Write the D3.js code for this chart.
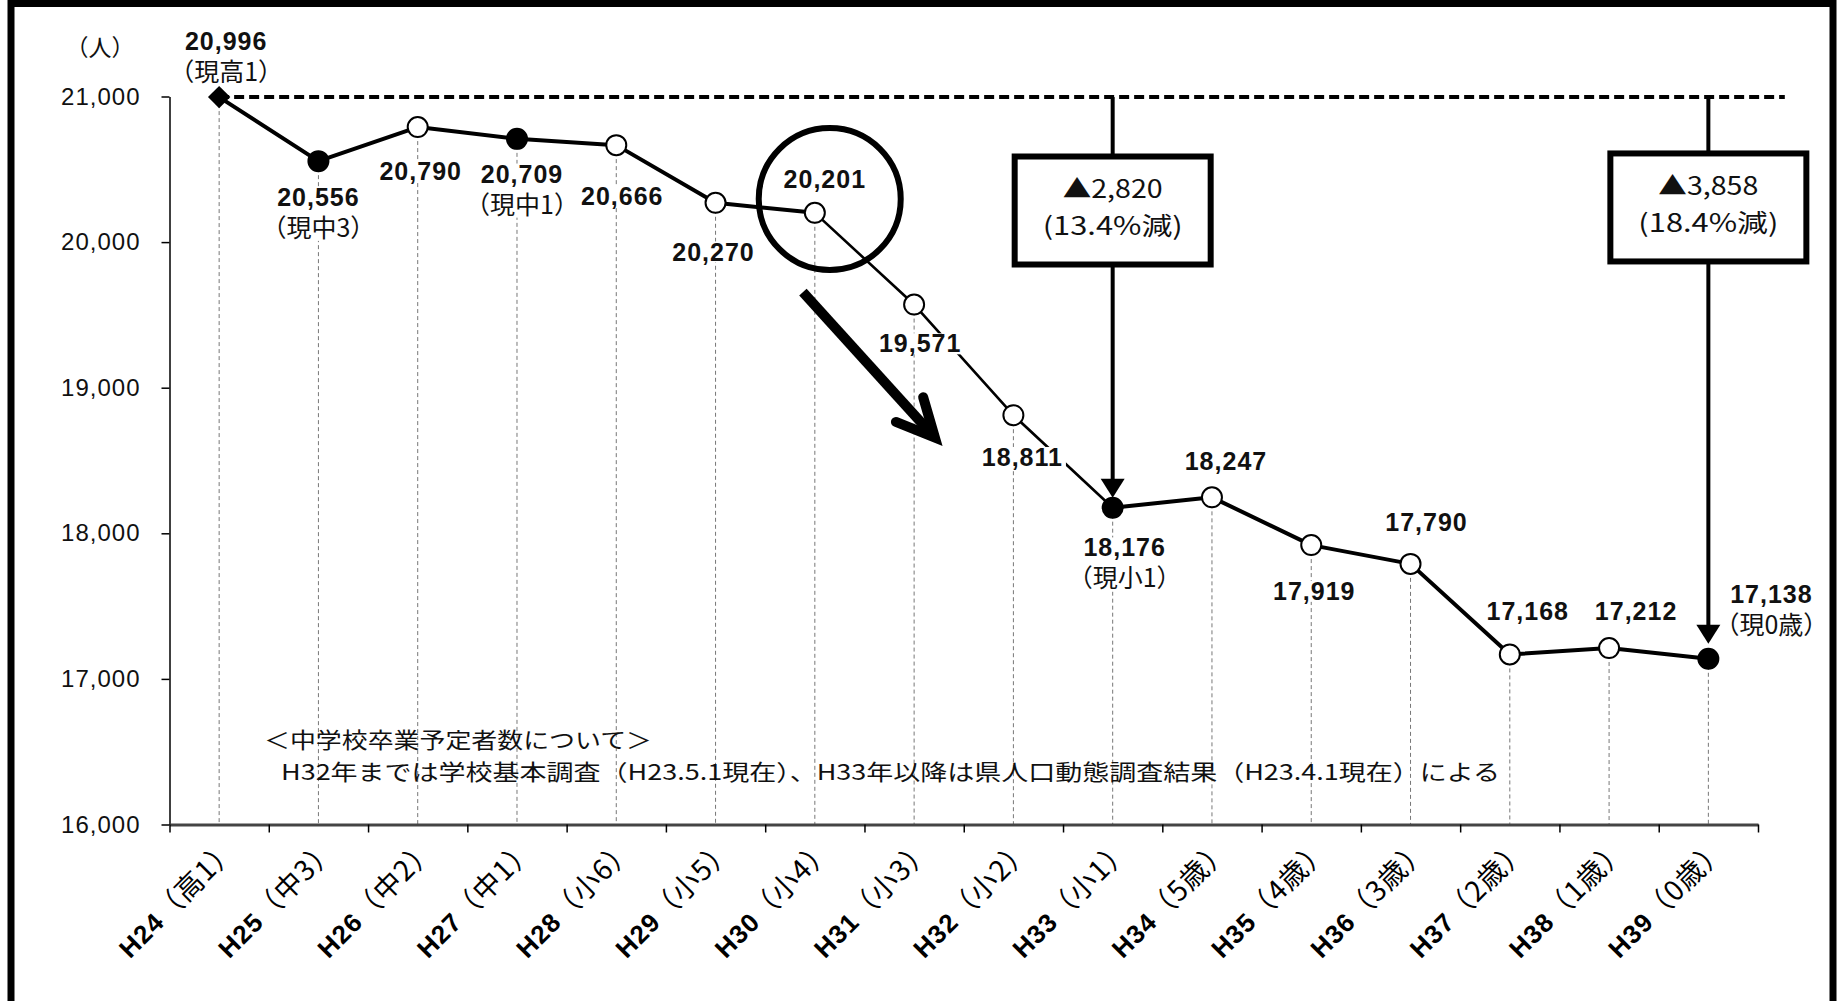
<!DOCTYPE html>
<html lang="ja">
<head>
<meta charset="utf-8">
<script src="https://cdn.jsdelivr.net/npm/d3@7"></script>
<style>
  html, body { margin: 0; padding: 0; background: #fff; }
  svg { display: block; }
</style>
</head>
<body>
<div id="chart"></div>
<script>
// 中学校卒業予定者数の推移 (H24 - H39)
var years = ['H24', 'H25', 'H26', 'H27', 'H28', 'H29', 'H30', 'H31', 'H32', 'H33', 'H34', 'H35', 'H36', 'H37', 'H38', 'H39'];
var grades = ['（高1）', '（中3）', '（中2）', '（中1）', '（小6）', '（小5）', '（小4）', '（小3）', '（小2）', '（小1）', '（5歳）', '（4歳）', '（3歳）', '（2歳）', '（1歳）', '（0歳）'];
var students = [20996, 20556, 20790, 20709, 20666, 20270, 20201, 19571, 18811, 18176, 18247, 17919, 17790, 17168, 17212, 17138];
var markerTypes = ['diamond', 'filled', 'open', 'filled', 'open', 'open', 'open', 'open', 'open', 'filled', 'open', 'open', 'open', 'open', 'open', 'filled'];
var currentNotes = ['（現高1）', '（現中3）', '', '（現中1）', '', '', '', '', '', '（現小1）', '', '', '', '', '', '（現0歳）'];
var yTicks = [16000, 17000, 18000, 19000, 20000, 21000];
var decreaseIdx = [9, 15];
var decreaseText = [['▲2,820', '(13.4%減)'], ['▲3,858', '(18.4%減)']];
var noteLines = ['＜中学校卒業予定者数について＞', 'H32年までは学校基本調査（H23.5.1現在）、H33年以降は県人口動態調査結果（H23.4.1現在）による'];

// label placement relative to each point (layout only)
var labelOff = [[7, -56], [0, 36], [3, 44], [5, 35], [6, 51], [-2, 49], [10, -34], [6, 39], [9, 42], [12, 40], [14, -36], [3, 46], [16, -42], [18, -43], [27, -37], [63, -65]];

var W = 1839, H = 1001;
var plotL = 169.5, plotR = 1758, plotT = 96.5, plotB = 824.5;
var numFont = '"Liberation Sans", Arial, sans-serif';
var jpFont = '"Noto Sans CJK JP", "Noto Sans", sans-serif';

var svg = d3.select('#chart').append('svg')
  .attr('width', W)
  .attr('height', H)
  .attr('viewBox', '0 0 ' + W + ' ' + H);

svg.append('rect').attr('width', W).attr('height', H).attr('fill', '#fff');

var x = d3.scaleBand().domain(years).range([plotL, plotR]).padding(0);
var xi = d3.scaleLinear().domain([-0.5, years.length - 0.5]).range([plotL, plotR]);
var y = d3.scaleLinear().domain([16000, 21000]).range([plotB, plotT]);
function xc(i) { return x(years[i]) + x.bandwidth() / 2; }

// drop lines
svg.append('g').selectAll('line')
  .data(students)
  .join('line')
  .attr('x1', function (d, i) { return xc(i); })
  .attr('x2', function (d, i) { return xc(i); })
  .attr('y1', function (d) { return y(d); })
  .attr('y2', y(16000))
  .attr('stroke', '#777')
  .attr('stroke-width', 1)
  .attr('stroke-dasharray', '4,3');

// axes
svg.append('g')
  .attr('transform', 'translate(' + plotL + ',0)')
  .call(d3.axisLeft(y).tickValues(yTicks).tickSize(8).tickSizeOuter(0).tickPadding(21).tickFormat(d3.format(',')))
  .call(function (g) { g.select('.domain').attr('stroke', '#000').attr('stroke-width', 1.5); })
  .call(function (g) { g.selectAll('.tick line').attr('stroke', '#000').attr('stroke-width', 1.5); })
  .call(function (g) {
    g.selectAll('text').attr('font-size', 24).attr('font-family', numFont)
      .attr('letter-spacing', 1).attr('fill', '#111');
  });

svg.append('g')
  .attr('transform', 'translate(0,' + plotB + ')')
  .call(d3.axisBottom(xi).tickValues(d3.range(-0.5, years.length, 1)).tickSize(8).tickSizeOuter(0).tickFormat(''))
  .call(function (g) { g.select('.domain').attr('stroke', '#444').attr('stroke-width', 3); })
  .call(function (g) { g.selectAll('.tick line').attr('stroke', '#000').attr('stroke-width', 1.5); });

svg.append('text')
  .attr('x', 100).attr('y', 48).attr('dy', '0.35em')
  .attr('text-anchor', 'middle')
  .attr('font-family', jpFont).attr('font-size', 23)
  .attr('fill', '#111')
  .text('（人）');

// category labels
var xl = svg.append('g').selectAll('g')
  .data(years)
  .join('g')
  .attr('transform', function (d, i) { return 'translate(' + (xc(i) + 16) + ',' + (plotB + 22) + ') rotate(-45)'; });
var xt = xl.append('text')
  .attr('text-anchor', 'end')
  .attr('dy', '0.35em')
  .attr('letter-spacing', 1)
  .attr('fill', '#000');
xt.append('tspan').attr('font-family', numFont).attr('font-weight', 'bold').attr('font-size', 26).text(function (d) { return d; });
xt.append('tspan').attr('font-family', jpFont).attr('font-size', 28).text(function (d, i) { return grades[i]; });

// base line at the H24 level
svg.append('line')
  .attr('x1', xc(0)).attr('x2', xi(15.77))
  .attr('y1', y(students[0])).attr('y2', y(students[0]))
  .attr('stroke', '#000').attr('stroke-width', 4).attr('stroke-dasharray', '10,5');

// series line, drawn segment by segment
var pts = students.map(function (d, i) { return [xc(i), y(d), i]; });
svg.append('g').selectAll('line')
  .data(d3.pairs(pts))
  .join('line')
  .attr('x1', function (d) { return d[0][0]; })
  .attr('y1', function (d) { return d[0][1]; })
  .attr('x2', function (d) { return d[1][0]; })
  .attr('y2', function (d) { return d[1][1]; })
  .attr('stroke', '#000')
  .attr('stroke-linecap', 'round')
  .attr('stroke-width', function (d) { return d[0][2] >= 6 && d[0][2] < 9 ? 2.6 : 4; });

// markers
svg.append('g').selectAll('g')
  .data(students)
  .join('g')
  .attr('transform', function (d, i) { return 'translate(' + xc(i) + ',' + y(d) + ')'; })
  .each(function (d, i) {
    var g = d3.select(this);
    if (markerTypes[i] === 'diamond') {
      g.append('path')
        .attr('d', d3.symbol(d3.symbolSquare, 250))
        .attr('transform', 'rotate(45)')
        .attr('fill', '#000');
    } else {
      g.append('circle')
        .attr('r', 10)
        .attr('fill', markerTypes[i] === 'filled' ? '#000' : '#fff')
        .attr('stroke', '#000')
        .attr('stroke-width', 2);
    }
  });

// value labels with white backing
var lb = svg.append('g').selectAll('g')
  .data(students)
  .join('g')
  .attr('transform', function (d, i) { return 'translate(' + (xc(i) + labelOff[i][0]) + ',' + (y(d) + labelOff[i][1]) + ')'; });
lb.append('text')
  .attr('text-anchor', 'middle')
  .attr('dy', '0.35em')
  .attr('font-family', numFont).attr('font-weight', 'bold').attr('font-size', 25)
  .attr('letter-spacing', 1)
  .attr('fill', '#111')
  .text(function (d) { return d3.format(',')(d); });
lb.each(function (d, i) {
  if (currentNotes[i] === '') return;
  d3.select(this).append('text')
    .attr('text-anchor', 'middle')
    .attr('y', 31)
    .attr('dy', '0.35em')
    .attr('font-family', jpFont).attr('font-size', 25)
    .attr('fill', '#111')
    .text(currentNotes[i]);
});
lb.each(function () {
  var b = this.getBBox();
  d3.select(this).insert('rect', ':first-child')
    .attr('x', b.x - 3).attr('y', b.y + 4)
    .attr('width', b.width + 6).attr('height', b.height - 7)
    .attr('fill', '#fff');
});

// note (one text block, two lines)
var note = svg.append('text').attr('font-family', jpFont).attr('font-size', 22).attr('fill', '#111');
note.append('tspan').attr('x', 264).attr('y', 748)
  .attr('textLength', 388).attr('lengthAdjust', 'spacingAndGlyphs')
  .text(noteLines[0]);
note.append('tspan').attr('x', 281).attr('y', 780)
  .attr('textLength', 1219).attr('lengthAdjust', 'spacingAndGlyphs')
  .text(noteLines[1]);

// decrease call-outs
var boxCenter = [20217, 20238];
var boxW = 196, boxH = 108;
var tipGap = [10, 15];
decreaseIdx.forEach(function (idx, k) {
  var cx = xc(idx), cy = y(boxCenter[k]);
  var tip = y(students[idx]) - tipGap[k];
  var g = svg.append('g');
  g.append('line').attr('x1', cx).attr('x2', cx).attr('y1', y(students[0])).attr('y2', cy - boxH / 2)
    .attr('stroke', '#000').attr('stroke-width', 4);
  g.append('line').attr('x1', cx).attr('x2', cx).attr('y1', cy + boxH / 2).attr('y2', tip - 16)
    .attr('stroke', '#000').attr('stroke-width', 4);
  g.append('path')
    .attr('d', 'M' + cx + ',' + tip + 'L' + (cx - 12) + ',' + (tip - 19) + 'L' + (cx + 12) + ',' + (tip - 19) + 'Z')
    .attr('fill', '#000');
  g.append('rect')
    .attr('x', cx - boxW / 2).attr('y', cy - boxH / 2)
    .attr('width', boxW).attr('height', boxH)
    .attr('fill', '#fff').attr('stroke', '#000').attr('stroke-width', 6);
  g.append('text').attr('x', cx).attr('y', cy - 21).attr('dy', '0.35em')
    .attr('text-anchor', 'middle').attr('font-family', jpFont).attr('font-size', 25)
    .attr('textLength', 100).attr('lengthAdjust', 'spacingAndGlyphs')
    .attr('fill', '#111').text(decreaseText[k][0]);
  g.append('text').attr('x', cx).attr('y', cy + 16).attr('dy', '0.35em')
    .attr('text-anchor', 'middle').attr('font-family', jpFont).attr('font-size', 25)
    .attr('textLength', 140).attr('lengthAdjust', 'spacingAndGlyphs')
    .attr('fill', '#111').text(decreaseText[k][1]);
});

// highlight ring and trend arrow
svg.append('circle')
  .attr('cx', xi(6.15)).attr('cy', y(20296)).attr('r', 71)
  .attr('fill', 'none').attr('stroke', '#000').attr('stroke-width', 6);

var a0 = [xi(5.88), y(19657)], a1 = [xi(7.25), y(18627)];
var adx = a1[0] - a0[0], ady = a1[1] - a0[1], alen = Math.sqrt(adx * adx + ady * ady);
var ux = adx / alen, uy = ady / alen;
var vx = a1[0] - ux * 6, vy = a1[1] - uy * 6;
function wing(sign) {
  var ang = Math.atan2(-uy, -ux) + sign * 26 * Math.PI / 180;
  return [vx + 42 * Math.cos(ang), vy + 42 * Math.sin(ang)];
}
var w1 = wing(1), w2 = wing(-1);
svg.append('line')
  .attr('x1', a0[0]).attr('y1', a0[1]).attr('x2', vx).attr('y2', vy)
  .attr('stroke', '#000').attr('stroke-width', 10);
svg.append('path')
  .attr('d', 'M' + w1[0] + ',' + w1[1] + 'L' + vx + ',' + vy + 'L' + w2[0] + ',' + w2[1])
  .attr('fill', 'none').attr('stroke', '#000').attr('stroke-width', 10)
  .attr('stroke-linejoin', 'miter').attr('stroke-linecap', 'round');

// outer frame
svg.append('rect')
  .attr('x', 11).attr('y', 3.5).attr('width', 1822).attr('height', 1100)
  .attr('fill', 'none').attr('stroke', '#000').attr('stroke-width', 7);
</script>
</body>
</html>
